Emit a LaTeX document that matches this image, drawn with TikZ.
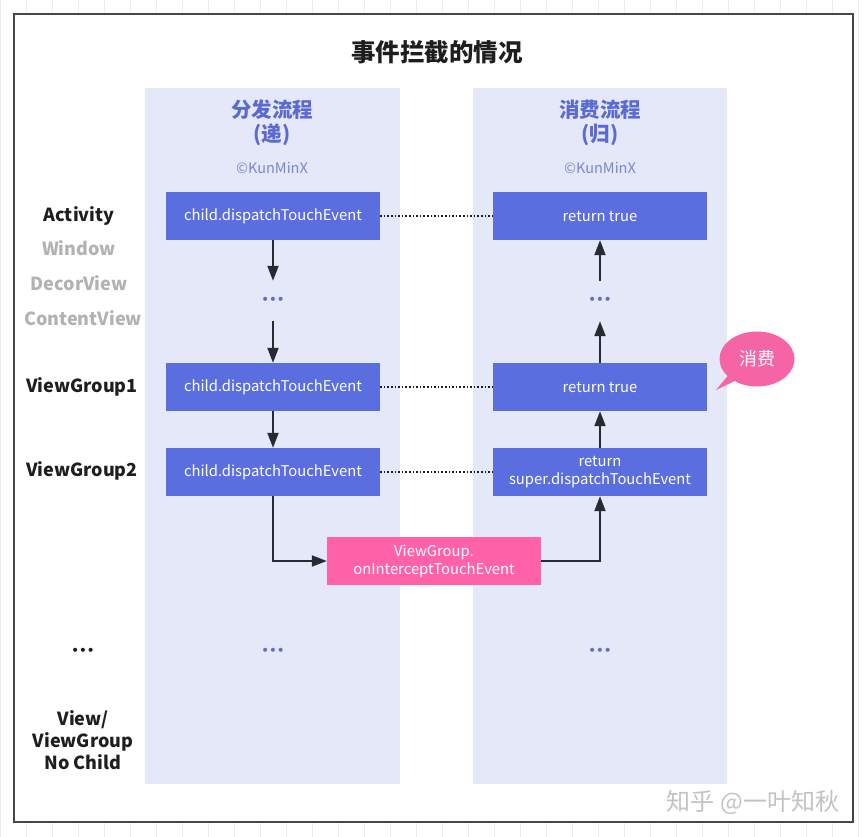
\documentclass[tikz,border=0pt]{standalone}
\usepackage{fontspec}
\setmainfont{Noto Sans CJK SC}
\newfontfamily\dejavu{DejaVu Sans}
\usetikzlibrary{arrows.meta,shapes.callouts}
\definecolor{boxblue}{RGB}{91,110,224}
\definecolor{panelc}{RGB}{228,232,248}
\definecolor{pinkc}{RGB}{255,98,168}
\definecolor{bubblec}{RGB}{245,100,165}
\definecolor{headc}{RGB}{90,106,210}
\definecolor{kunc}{RGB}{125,135,205}
\definecolor{dotc}{RGB}{100,112,190}
\definecolor{greyl}{RGB}{178,178,178}
\definecolor{darkt}{RGB}{30,30,30}
\definecolor{arrc}{RGB}{38,42,50}
\definecolor{gridc}{RGB}{236,236,236}
\definecolor{framec}{RGB}{70,70,70}
\definecolor{wmc}{RGB}{195,195,195}
\newcommand\threedots{{\dejavu •\kern-0.5pt•\kern-0.5pt•}}
\begin{document}
\begin{tikzpicture}[x=1pt,y=-1pt,
 box/.style={fill=boxblue, text=white, minimum width=214, minimum height=48, inner sep=0, align=center, font=\fontsize{14.8}{18}\selectfont},
 pbox/.style={box, fill=pinkc},
 panel/.style={fill=panelc, draw=none, inner sep=0},
 lbl/.style={font=\bfseries\fontsize{18}{22}\selectfont, text=darkt, align=center, inner sep=0},
 glbl/.style={lbl, text=greyl},
 head/.style={font=\bfseries\fontsize{20.5}{24}\selectfont, text=headc, align=center, inner sep=0},
 kun/.style={font=\fontsize{14.5}{17}\selectfont, text=kunc, inner sep=0},
 arr/.style={draw=arrc, line width=2pt, -{Triangle[length=15pt,width=11pt]}},
 dotline/.style={draw=darkt, line width=1.6pt, dotted},
 bdots/.style={font=\fontsize{14}{16}\selectfont, text=dotc, inner sep=0, minimum height=40},
]
\useasboundingbox (0,0) rectangle (868,837);
\fill[white] (0,0) rectangle (868,837);
\draw[gridc, step=26] (0,0) grid (868,837);
\draw[framec, line width=1.8pt, fill=white] (14,14) rectangle (853,822);

\node[font=\bfseries\fontsize{24.5}{28}\selectfont, text=darkt] (title) at (437,52) {事件拦截的情况};

\node[panel, minimum width=255, minimum height=696] (pl) at (272.5,436) {};
\node[panel, minimum width=254, minimum height=696] (pr) at (600,436) {};

\node[head] (h1) at (272,110) {分发流程};
\node[head] (h1b) at (272,135) {(递)};
\node[kun] (k1) at (272,168) {©KunMinX};
\node[head] (h2) at (600,110) {消费流程};
\node[head] (h2b) at (600,135) {(归)};
\node[kun] (k2) at (600,168) {©KunMinX};

\node[box] (a1) at (273,216) {child.dispatchTouchEvent};
\node[box] (v1) at (273,387) {child.dispatchTouchEvent};
\node[box] (v2) at (273,472) {child.dispatchTouchEvent};
\node[box] (ra) at (600,216) {return true};
\node[box] (r1) at (600,387) {return true};
\node[box] (r2) at (600,472) {return\\super.dispatchTouchEvent};
\node[pbox] (ic) at (434,561) {ViewGroup.\\onInterceptTouchEvent};

\node[bdots] (d1) at (273,301) {\threedots};
\node[bdots] (d2) at (600,301) {\threedots};
\node[bdots] (d3) at (273,652) {\threedots};
\node[bdots] (d4) at (600,652) {\threedots};

\node[lbl] (la) at (79,216) {Activity};
\node[glbl] (lw) at (79,248) {Window};
\node[glbl] (ld) at (79,283) {DecorView};
\node[glbl] (lc) at (83,318) {ContentView};
\node[lbl] (l1) at (82,387) {ViewGroup1};
\node[lbl] (l2) at (82,471) {ViewGroup2};
\node[lbl, font=\fontsize{14}{16}\selectfont] (le) at (83,652) {\threedots};
\node[lbl] (lv) at (83,740) {View/\\ViewGroup\\No Child};

\draw[arr] (a1) -- (d1);
\draw[arr] (d1) -- (v1);
\draw[arr] (v1) -- (v2);
\draw[arr] (v2.south) |- (ic.west);
\draw[arr] (ic.east) -| (r2.south);
\draw[arr] (r2) -- (r1);
\draw[arr] (r1) -- (d2);
\draw[arr] (d2) -- (ra);

\draw[dotline] (a1) -- (ra);
\draw[dotline] (v1) -- (r1);
\draw[dotline] (v2) -- (r2);

\node[ellipse callout, fill=bubblec, text=white, minimum width=75, minimum height=55, callout absolute pointer={(716,390)}, font=\fontsize{18}{22}\selectfont] (bub) at (757,359) {消费};

\node[text=wmc, font=\fontsize{24}{28}\selectfont] (wm) at (753,802) {知乎 @一叶知秋};
\end{tikzpicture}
\end{document}
